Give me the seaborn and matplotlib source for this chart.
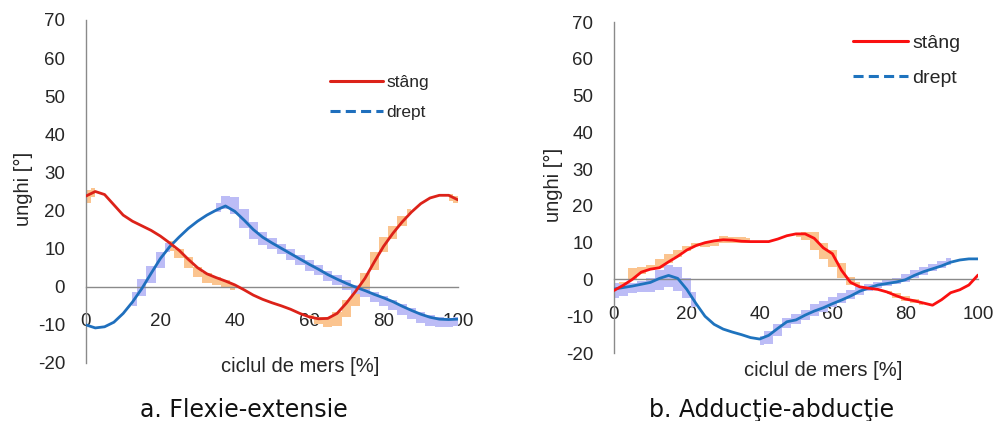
import numpy as np
import pandas as pd
import matplotlib
matplotlib.use("Agg")
import matplotlib.pyplot as plt
from matplotlib.lines import Line2D
import seaborn as sns

# Gait cycle sample positions [%]
cycle_pct = [0, 2.5, 5, 7.5, 10, 12.5, 15, 17.5, 20, 22.5, 25, 27.5, 30, 32.5, 35, 37.5,
             40, 42.5, 45, 47.5, 50, 52.5, 55, 57.5, 60, 62.5, 65, 67.5, 70, 72.5, 75,
             77.5, 80, 82.5, 85, 87.5, 90, 92.5, 95, 97.5, 100]

# a. Flexion-extension angles [deg]
flex_stang = [23.8, 25.0, 24.2, 21.5, 18.8, 17.2, 16.0, 14.8, 13.3, 11.5, 9.6, 7.2, 5.0, 3.4,
              2.4, 1.5, 0.5, -0.8, -2.2, -3.3, -4.2, -5.0, -5.9, -7.0, -7.9, -8.4, -8.3, -7.0,
              -4.3, -1.2, 2.2, 6.5, 10.6, 14.0, 17.0, 19.6, 21.8, 23.3, 24.0, 24.0, 22.8]
flex_drept = [-10.0, -10.8, -10.5, -9.3, -7.0, -4.0, -0.5, 3.5, 7.4, 10.5, 13.0, 15.3, 17.2,
              18.8, 20.1, 21.2, 19.8, 17.5, 15.0, 13.0, 11.5, 10.1, 8.7, 7.3, 5.9, 4.6, 3.2,
              2.0, 0.9, -0.1, -1.0, -2.0, -2.9, -3.9, -5.1, -6.2, -7.2, -8.0, -8.5, -8.6, -8.5]

# Variability range around each curve (None = not shown)
flex_stang_lo = [22.0, 23.5, None, None, None, None, None, None, None, 9.5, 7.5, 5.0, 2.5, 1.0,
                 0.5, 0.0, -0.8, None, None, None, None, None, None, None, -8.5, -9.8, -10.5,
                 -10.2, -8.0, -5.0, -1.0, 4.5, 9.0, 12.5, 16.0, 19.0, None, None, None, 22.5, 22.0]
flex_stang_hi = [25.5, 26.0, None, None, None, None, None, None, None, 12.0, 10.0, 7.8, 5.2, 3.6,
                 2.6, 1.8, 0.8, None, None, None, None, None, None, None, -7.5, -8.0, -8.0,
                 -6.5, -3.5, -0.5, 3.5, 9.0, 13.0, 16.0, 18.5, 20.5, None, None, None, 24.3, 23.8]
flex_drept_lo = [None, None, None, None, None, -5.0, -2.5, 1.0, 5.0, 9.0, None, None, None, None,
                 19.5, 20.5, 19.0, 15.5, 12.5, 11.0, 9.8, 8.5, 7.0, 5.6, 4.2, 3.0, 1.6, 0.5,
                 -0.8, -1.8, -2.8, -4.0, -5.0, -6.2, -7.4, -8.5, -9.5, -10.2, -10.6, -10.6, -10.2]
flex_drept_hi = [None, None, None, None, None, -1.5, 2.0, 5.5, 9.0, 11.5, None, None, None, None,
                 22.0, 23.8, 23.5, 20.5, 17.0, 14.5, 12.8, 11.2, 9.8, 8.4, 7.0, 5.6, 4.2, 3.0,
                 1.8, 0.5, -0.5, -1.5, -2.5, -3.5, -4.5, -5.7, -6.7, -7.5, -8.0, -8.2, -8.0]

# b. Adduction-abduction angles [deg]
add_stang = [-3.0, -1.6, 0.0, 2.0, 2.8, 3.2, 4.8, 6.3, 8.0, 9.2, 10.0, 10.5, 10.8, 10.7, 10.4,
             10.3, 10.3, 10.3, 11.0, 11.9, 12.4, 12.4, 11.2, 8.6, 7.0, 2.5, -0.8, -2.0, -2.4,
             -2.7, -3.4, -4.4, -5.3, -5.8, -6.4, -7.0, -5.5, -3.6, -2.8, -1.5, 1.2]
add_drept = [-2.6, -2.2, -1.8, -1.3, -0.8, 0.3, 1.1, 0.3, -2.7, -6.5, -10.0, -12.2, -13.5, -14.3,
             -15.0, -15.8, -16.2, -15.2, -13.3, -11.5, -11.0, -9.7, -8.6, -7.7, -6.6, -5.6, -4.5,
             -3.2, -2.3, -1.5, -1.1, -0.7, -0.1, 1.1, 2.1, 2.9, 3.7, 4.7, 5.3, 5.6, 5.6]

add_stang_lo = [-4.0, -2.5, 0.0, 1.5, 2.5, 3.0, 4.5, 6.0, 7.8, 9.0, 8.8, 9.2, 9.8, 10.0, 10.0,
                10.0, None, None, None, None, 11.5, 10.8, 8.0, 5.5, 3.5, 0.5, -1.5, -2.2, None,
                None, -4.0, -5.0, -5.8, -6.4, -7.0, None, None, None, None, None, None]
add_stang_hi = [-2.0, -0.8, 3.0, 3.5, 4.0, 5.5, 7.0, 8.0, 9.2, 9.8, 10.0, 10.6, 11.8, 11.5, 11.5,
                11.2, None, None, None, None, 12.4, 12.8, 12.8, 10.0, 8.0, 4.5, 0.8, -0.8, None,
                None, -3.0, -3.8, -4.6, -5.2, -6.0, None, None, None, None, None, None]
add_drept_lo = [-5.0, -4.5, -3.8, -3.5, -3.5, -2.8, -2.0, -3.0, -5.0, -7.5, None, None, None,
                None, None, None, -17.8, -17.5, -15.5, -13.2, -12.2, -11.0, -9.8, -8.8, -7.5,
                -6.5, -5.3, -4.2, -3.2, -2.3, -1.8, -1.2, -0.6, 0.3, 1.3, 2.2, 3.0, 4.0, None,
                None, None]
add_drept_hi = [-1.0, -1.2, -1.0, -0.5, 0.5, 2.5, 4.0, 3.5, 0.5, -3.5, None, None, None,
                None, None, None, -15.5, -14.0, -12.0, -10.5, -9.5, -8.2, -6.8, -5.8, -4.8,
                -3.8, -2.8, -2.0, -1.2, -0.6, 0.0, 0.5, 1.5, 2.5, 3.5, 4.2, 5.0, 5.8, None,
                None, None]

x_ticks = [0, 20, 40, 60, 80, 100]
y_ticks = [-20, -10, 0, 10, 20, 30, 40, 50, 60, 70]
series_names = ["stâng", "drept"]
x_label = "ciclul de mers [%]"
y_label = "unghi [°]"
captions = ["a. Flexie-extensie", "b. Adducţie-abducţie"]

sns.set_theme(style="white")
plt.rcParams["font.family"] = ["Liberation Sans", "DejaVu Sans"]
plt.rcParams["axes.unicode_minus"] = False

TXT = "#262626"
AXIS_GREY = "#8a8a8a"
BAND_ORANGE = "#fbc48f"
BAND_BLUE = "#bcbcf6"

fig = plt.figure(figsize=(9.94, 4.21), dpi=100)
ax_a = fig.add_axes([0.0865, 0.1378, 0.3742, 0.8147])
ax_b = fig.add_axes([0.6177, 0.1615, 0.3662, 0.786])

panels = [
    dict(ax=ax_a, stang=flex_stang, drept=flex_drept,
         s_lo=flex_stang_lo, s_hi=flex_stang_hi, d_lo=flex_drept_lo, d_hi=flex_drept_hi,
         red="#dc2219", blue="#1f6fbd", legend_anchor=(0.332, 0.822), legend_size=12.5,
         legend_spacing=0.85, handle_len=3.05),
    dict(ax=ax_b, stang=add_stang, drept=add_drept,
         s_lo=add_stang_lo, s_hi=add_stang_hi, d_lo=add_drept_lo, d_hi=add_drept_hi,
         red="#fa1010", blue="#1e73be", legend_anchor=(0.858, 0.918), legend_size=14,
         legend_spacing=0.9, handle_len=2.85),
]

x = np.array(cycle_pct, dtype=float)

for p in panels:
    ax = p["ax"]
    # variability bands drawn as stepped fills behind the mean curves
    ax.fill_between(x, np.array(p["s_lo"], dtype=float), np.array(p["s_hi"], dtype=float),
                    step="mid", color=BAND_ORANGE, linewidth=0, zorder=1)
    ax.fill_between(x, np.array(p["d_lo"], dtype=float), np.array(p["d_hi"], dtype=float),
                    step="mid", color=BAND_BLUE, linewidth=0, zorder=1)

    df = pd.DataFrame({"pct": cycle_pct, "stang": p["stang"], "drept": p["drept"]})
    sns.lineplot(data=df, x="pct", y="drept", ax=ax, color=p["blue"], linewidth=2.0,
                 legend=False, zorder=3)
    sns.lineplot(data=df, x="pct", y="stang", ax=ax, color=p["red"], linewidth=2.0,
                 legend=False, zorder=3)

    ax.set_xlim(0, 100)
    ax.set_ylim(-20, 70)
    ax.set_xticks(x_ticks)
    ax.set_yticks(y_ticks)
    ax.set_xlabel("")
    ax.set_ylabel("")
    for side in ("top", "right"):
        ax.spines[side].set_visible(False)
    ax.spines["left"].set_color(AXIS_GREY)
    ax.spines["left"].set_linewidth(1.0)
    ax.spines["bottom"].set_position(("data", 0))
    ax.spines["bottom"].set_color(AXIS_GREY)
    ax.spines["bottom"].set_linewidth(1.0)
    ax.spines["bottom"].set_zorder(2)
    ax.tick_params(axis="both", length=0, labelsize=13.5, labelcolor=TXT)
    ax.tick_params(axis="y", pad=15)
    ax.tick_params(axis="x", pad=19)
    ax.patch.set_alpha(0)

    handles = [Line2D([], [], color=p["red"], linewidth=2.2),
               Line2D([], [], color=p["blue"], linewidth=2.2, linestyle=(0, (3.3, 1.7)))]
    ax.legend(handles, series_names, loc="upper left", bbox_to_anchor=p["legend_anchor"],
              bbox_transform=fig.transFigure, frameon=False, fontsize=p["legend_size"],
              handlelength=p["handle_len"], handletextpad=0.2, labelspacing=p["legend_spacing"],
              borderpad=0, borderaxespad=0, labelcolor=TXT)

# axis titles and panel captions
fig.text(23.5 / 994, 1 - 189 / 421, y_label, rotation=90, ha="center", va="center",
         fontsize=14.5, color=TXT)
fig.text(553 / 994, 1 - 185 / 421, y_label, rotation=90, ha="center", va="center",
         fontsize=14.5, color=TXT)
fig.text(300 / 994, 1 - 366 / 421, x_label, ha="center", va="center", fontsize=14.5, color=TXT)
fig.text(823 / 994, 1 - 371 / 421, x_label, ha="center", va="center", fontsize=14.5, color=TXT)
fig.text(244 / 994, 1 - 417 / 421, captions[0], ha="center", va="baseline",
         fontsize=17, color="#111111", family="DejaVu Sans")
fig.text(772 / 994, 1 - 417 / 421, captions[1], ha="center", va="baseline",
         fontsize=17, color="#111111", family="DejaVu Sans")

fig.savefig("out.png", dpi=100, facecolor="white")
